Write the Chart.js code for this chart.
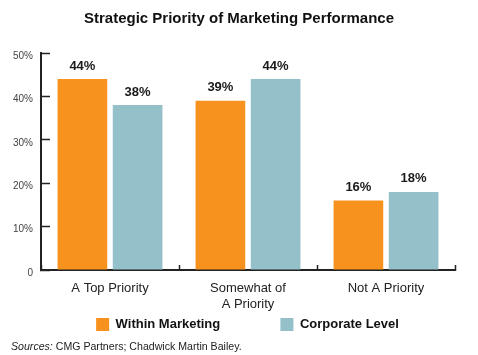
<!DOCTYPE html>
<html>
<head>
<meta charset="utf-8">
<script src="https://cdn.jsdelivr.net/npm/chart.js@4/dist/chart.umd.min.js"></script>
<style>
  html, body { margin: 0; padding: 0; background: #ffffff; }
  #wrap { position: relative; width: 478px; height: 355px; }
  #sources { position: absolute; left: 11px; top: 340px; font: 10.6px "Liberation Sans", Arial, sans-serif; line-height: 13px; color: #222; white-space: nowrap; }
  #sources i { font-style: italic; }
</style>
</head>
<body>
<div id="wrap">
  <canvas id="c" width="478" height="355"></canvas>
  <div id="sources"><i>Sources:</i> CMG Partners; Chadwick Martin Bailey.</div>
</div>
<script>
const categories = [["A Top Priority"], ["Somewhat of", "A Priority"], ["Not A Priority"]];
const seriesNames = ["Within Marketing", "Corporate Level"];
const withinMarketing = [44, 39, 16];
const corporateLevel = [38, 44, 18];
const yTicks = [0, 10, 20, 30, 40, 50];
const titleText = "Strategic Priority of Marketing Performance";

const FONT = "'Liberation Sans', Arial, sans-serif";

const valueLabels = {
  id: 'valueLabels',
  afterDatasetsDraw(chart) {
    const ctx = chart.ctx;
    ctx.save();
    ctx.font = "bold 13px " + FONT;
    ctx.fillStyle = '#1a1a1a';
    ctx.textAlign = 'center';
    ctx.textBaseline = 'middle';
    chart.data.datasets.forEach((ds, i) => {
      chart.getDatasetMeta(i).data.forEach((bar, j) => {
        ctx.fillText(ds.data[j] + '%', bar.x, bar.y - 13);
      });
    });
    ctx.restore();
  }
};

const boxShift = {
  id: 'boxShift',
  afterLayout(chart) {
    const t = chart.titleBlock;
    if (t) { t.left = 0; t.right = chart.width; t.width = chart.width; }
    const l = chart.legend;
    if (l) { l.left = 17; l.right = chart.width; l.width = l.right - l.left; }
  }
};

new Chart(document.getElementById('c'), {
  type: 'bar',
  data: {
    labels: categories,
    datasets: [
      { label: seriesNames[0], data: withinMarketing, backgroundColor: '#F7921E', borderWidth: 0,
        categoryPercentage: 0.8, barPercentage: 0.9 },
      { label: seriesNames[1], data: corporateLevel, backgroundColor: '#93C0C9', borderWidth: 0,
        categoryPercentage: 0.8, barPercentage: 0.9 }
    ]
  },
  options: {
    responsive: false,
    animation: false,
    devicePixelRatio: 1,
    layout: { padding: { left: 0, right: 23, top: 0, bottom: 14 } },
    plugins: {
      tooltip: { enabled: false },
      title: {
        display: true,
        text: titleText,
        color: '#111',
        font: { family: FONT, size: 15, weight: 'bold', lineHeight: 1.2 },
        padding: { top: 10, bottom: 25 }
      },
      legend: {
        display: true,
        position: 'bottom',
        labels: {
          color: '#111',
          font: { family: FONT, size: 13, weight: 'bold' },
          boxWidth: 13,
          boxHeight: 13,
          padding: 6,
          generateLabels(chart) {
            const items = Chart.defaults.plugins.legend.labels.generateLabels(chart);
            items.forEach((it, i) => {
              it.lineWidth = 0;
              if (i < items.length - 1) it.text = it.text + ' '.repeat(15);
            });
            return items;
          }
        }
      }
    },
    scales: {
      x: {
        afterFit(s) { s.height = 42; },
        grid: { display: true, drawOnChartArea: false, drawTicks: true, tickLength: -5, color: '#222', tickWidth: 1.5, offset: true },
        border: { display: true, color: '#222', width: 2 },
        ticks: { color: '#222', padding: 15, font: { family: FONT, size: 13, lineHeight: 16 / 13 }, maxRotation: 0, autoSkip: false }
      },
      y: {
        min: 0,
        max: 50,
        afterFit(s) { s.width = 41; },
        afterBuildTicks(s) { s.ticks = yTicks.map(v => ({ value: v })); },
        grid: { display: true, drawOnChartArea: false, drawTicks: true, tickLength: -9, color: '#222', tickWidth: 1.5 },
        border: { display: true, color: '#222', width: 2 },
        ticks: {
          color: '#444', padding: 17, labelOffset: 3,
          font: { family: FONT, size: 10 },
          callback: v => v === 0 ? '0' : v + '%'
        }
      }
    }
  },
  plugins: [valueLabels, boxShift]
});
</script>
</body>
</html>
